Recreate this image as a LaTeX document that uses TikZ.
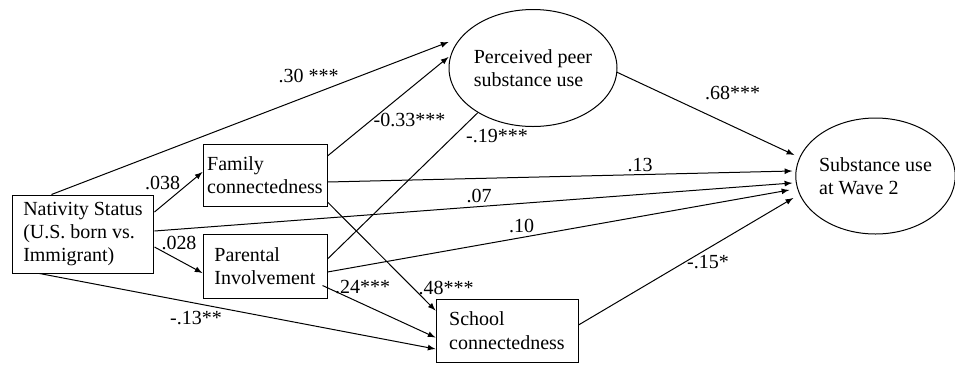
\documentclass[tikz,border=0pt]{standalone}
\usepackage{fontspec}
\setmainfont{Liberation Serif}
\usepackage{tikz}
\usetikzlibrary{calc,arrows,shapes.geometric}

\tikzset{
  box/.style={draw,rectangle,align=left,inner sep=1pt,line width=0.6pt},
  oval/.style={draw,ellipse,align=left,inner sep=0pt,line width=0.6pt},
  lbl/.style={inner sep=0pt},
}

\begin{document}
\begin{tikzpicture}[x=0.6pt,y=-0.6pt,line width=0.6pt,font=\fontsize{12pt}{14pt}\selectfont]
              \useasboundingbox (0,0) rectangle (955,364);
              % variables
              \node[box,minimum width=85.2pt,minimum height=46.8pt](nat)at(83,234){Nativity Status\\(U.S. born vs.\\Immigrant)};
              \node[box,minimum width=74.4pt,minimum height=37.2pt](fam)at(265,175){Family\\connectedness};
              \node[box,minimum width=74.4pt,minimum height=38.4pt](par)at(265,266){Parental\\Involvement};
              \node[box,minimum width=85.2pt,minimum height=37.8pt](sch)at(507,330.5){School\\connectedness};
              \node[oval,minimum width=100.8pt,minimum height=70.2pt](peer)at(533,68){Perceived peer\\substance use};
              \node[oval,minimum width=94.8pt,minimum height=69.6pt](wave)at(875.5,176){Substance use\\at Wave 2};
              % paths
              \draw[-latex]($(nat.north west)+(40,0)$)--($(peer.west)+(0,-26)$);
              \draw[-latex]($(nat.east)+(0,-22)$)--($(fam.west)+(0,-3)$);
              \draw[-latex]($(nat.east)+(0,13)$)--($(par.west)+(0,7)$);
              \draw[-latex]($(nat.east)+(0,-3)$)--($(wave.west)+(-3,7)$);
              \draw[-latex]($(nat.south west)+(28,0)$)--($(sch.west)+(0,18.5)$);
              \draw[-latex]($(fam.east)+(0,-19)$)--($(peer.west)+(0,-11)$);
              \draw[-latex]($(fam.east)+(0,7)$)--($(wave.west)+(-3,-5)$);
              \draw[-latex]($(fam.east)+(0,27)$)--($(sch.west)+(0,-20)$);
              \draw($(par.east)+(0,-7)$)--(peer.219);
              \draw[-latex]($(par.east)+(0,6)$)--($(wave.west)+(-6,14)$);
              \draw[-latex]($(par.south east)+(-5,-13)$)--($(sch.west)+(0,7)$);
              \draw[-latex]($(peer.east)+(-1,4)$)--($(wave.west)+(-1,-21)$);
              \draw[-latex]($(sch.east)+(0,-5.5)$)--($(wave.west)+(-2,22)$);
              % coefficients
              \node[lbl](c30)at(308.5,76){.30 ***};
              \node[lbl](c038)at(162.5,183.3){.038};
              \node[lbl](c028)at(179,243){.028};
              \node[lbl](c13n)at(196,318){-.13**};
              \node[lbl](c33)at(409.5,120){-0.33***};
              \node[lbl](c19)at(497,136){-.19***};
              \node[lbl](c13)at(640,165){.13};
              \node[lbl](c07)at(479,196){.07};
              \node[lbl](c10)at(521.5,226){.10};
              \node[lbl](c48)at(446,287.5){.48***};
              \node[lbl](c24)at(362.5,287){.24***};
              \node[lbl](c68)at(732.5,93){.68***};
              \node[lbl](c15)at(708,262.5){-.15*};
            \end{tikzpicture}
\end{document}
